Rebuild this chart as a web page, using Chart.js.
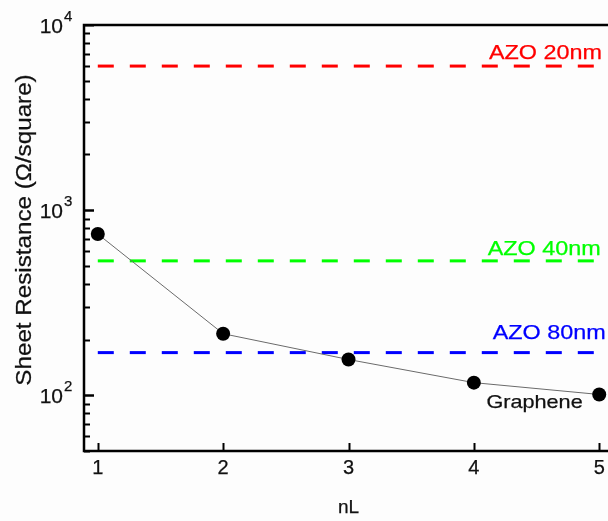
<!DOCTYPE html>
<html>
<head>
<meta charset="utf-8">
<script src="https://cdn.jsdelivr.net/npm/chart.js@4"></script>
<style>
  html, body { margin: 0; padding: 0; background: #fdfdfd; }
  #wrap { width: 608px; height: 521px; position: relative; }
</style>
</head>
<body>
<div id="wrap"><canvas id="chart"></canvas></div>
<script>
// ── data ──
const nL = [1, 2, 3, 4, 5];
const grapheneRs = [743, 215, 156, 117, 101];

const azoNames = ['AZO 20nm', 'AZO 40nm', 'AZO 80nm'];
const azoRs = [6000, 532, 170];
const azoSpan = [1, 5];

const xTickValues = [1, 2, 3, 4, 5];
const yTickValues = [100, 1000, 10000];
const yTickExponents = ['2', '3', '4'];

// ── styling ──
const FONT = "'Liberation Sans', Arial, sans-serif";
const TEXT_STROKE = 0.25;
const azoColors = ['#ff0000', '#00ff00', '#0000ff'];
// label anchors in data units (left edge, baseline)
const azoLabelPos = [[4.12, 6560], [4.11, 573], [4.15, 202]];
const grapheneLabelPos = [4.10, 85];

// fill + very thin stroke, the figure's text is a touch heavier than plain canvas text
function heavyText(ctx, text, x, y) {
    ctx.fillText(text, x, y);
    ctx.strokeText(text, x, y);
}

function stretchedText(ctx, text, x, y, size, sx, color) {
    ctx.save();
    ctx.font = `${size}px ${FONT}`;
    ctx.fillStyle = color;
    ctx.strokeStyle = color;
    ctx.lineWidth = TEXT_STROKE;
    ctx.textAlign = 'left';
    ctx.textBaseline = 'alphabetic';
    ctx.translate(x, y);
    ctx.scale(sx, 1);
    heavyText(ctx, text, 0, 0);
    ctx.restore();
}

const axisDecor = {
    id: 'axisDecor',
    afterDraw(chart) {
        const { ctx, chartArea: a, scales: { x, y } } = chart;
        ctx.save();
        ctx.strokeStyle = '#000';
        ctx.lineCap = 'square';

        // frame: left, bottom, top
        ctx.lineWidth = 2.5;
        ctx.beginPath();
        ctx.moveTo(a.right + 5, a.top);
        ctx.lineTo(a.left, a.top);
        ctx.lineTo(a.left, a.bottom);
        ctx.lineTo(a.right + 5, a.bottom);
        ctx.stroke();

        // y ticks (inward), major + minor
        ctx.lineWidth = 2;
        ctx.lineCap = 'butt';
        for (let dec = 10; dec <= 1000; dec *= 10) {
            for (let m = 1; m <= 10; m++) {
                const v = m * dec;
                if (v < y.min || v > y.max) continue;
                const py = Math.round(y.getPixelForValue(v)) + 0.5;
                const len = (m === 1 || m === 10) ? 10 : 6;
                ctx.beginPath();
                ctx.moveTo(a.left, py);
                ctx.lineTo(a.left + len, py);
                ctx.stroke();
            }
        }
        // x ticks (inward)
        xTickValues.forEach(v => {
            const px = Math.round(x.getPixelForValue(v)) + 0.5;
            ctx.beginPath();
            ctx.moveTo(px, a.bottom);
            ctx.lineTo(px, a.bottom - 8);
            ctx.stroke();
        });

        // y tick labels: 10^n
        ctx.fillStyle = '#111';
        ctx.strokeStyle = '#111';
        ctx.lineWidth = TEXT_STROKE;
        yTickValues.forEach((v, i) => {
            const py = y.getPixelForValue(v);
            ctx.font = `21px ${FONT}`;
            ctx.textAlign = 'right';
            ctx.textBaseline = 'alphabetic';
            heavyText(ctx, '10', 63, py + 7.5);
            ctx.font = `15px ${FONT}`;
            ctx.textAlign = 'left';
            heavyText(ctx, yTickExponents[i], 64, py - 4);
        });

        // x tick labels
        ctx.font = `20px ${FONT}`;
        ctx.textAlign = 'center';
        ctx.textBaseline = 'alphabetic';
        xTickValues.forEach(v => {
            heavyText(ctx, String(v), x.getPixelForValue(v), 474);
        });

        // axis titles
        ctx.font = `19px ${FONT}`;
        heavyText(ctx, 'nL', x.getPixelForValue(3), 513);
        ctx.save();
        ctx.translate(31, 230);
        ctx.rotate(-Math.PI / 2);
        ctx.scale(1.1, 1);
        ctx.font = `22px ${FONT}`;
        ctx.textAlign = 'center';
        heavyText(ctx, 'Sheet Resistance (\u03A9/square)', 0, 0);
        ctx.restore();

        // annotations
        azoNames.forEach((name, i) => {
            const [lx, ly] = azoLabelPos[i];
            stretchedText(ctx, name, x.getPixelForValue(lx), y.getPixelForValue(ly), 20, 1.17, azoColors[i]);
        });
        stretchedText(ctx, 'Graphene', x.getPixelForValue(grapheneLabelPos[0]),
            y.getPixelForValue(grapheneLabelPos[1]), 18.5, 1.17, '#111');

        ctx.restore();
    }
};

const datasets = [{
    label: 'Graphene',
    data: nL.map((v, i) => ({ x: v, y: grapheneRs[i] })),
    showLine: true,
    borderColor: '#6a6a6a',
    borderWidth: 1,
    pointRadius: 7,
    pointBackgroundColor: '#000',
    pointBorderColor: '#000',
    pointBorderWidth: 0,
    clip: false,
}];

azoNames.forEach((name, i) => {
    datasets.push({
        label: name,
        data: azoSpan.map(v => ({ x: v, y: azoRs[i] })),
        showLine: true,
        borderColor: azoColors[i],
        borderWidth: 3,
        borderDash: [16, 16],
        pointRadius: 0,
    });
});

new Chart(document.getElementById('chart'), {
    type: 'scatter',
    data: { datasets },
    options: {
        responsive: true,
        maintainAspectRatio: false,
        animation: false,
        layout: { autoPadding: false, padding: { top: 25, left: 0, right: 0, bottom: 0 } },
        plugins: { legend: { display: false }, tooltip: { enabled: false } },
        scales: {
            x: {
                type: 'linear',
                min: 0.89,
                max: 5.07,
                grid: { display: false },
                border: { display: false },
                ticks: { display: false },
                afterFit: s => { s.height = 70; },
            },
            y: {
                type: 'logarithmic',
                min: 50,
                max: 10000,
                grid: { display: false },
                border: { display: false },
                ticks: { display: false },
                afterFit: s => { s.width = 84; },
            }
        }
    },
    plugins: [axisDecor]
});
</script>
</body>
</html>
